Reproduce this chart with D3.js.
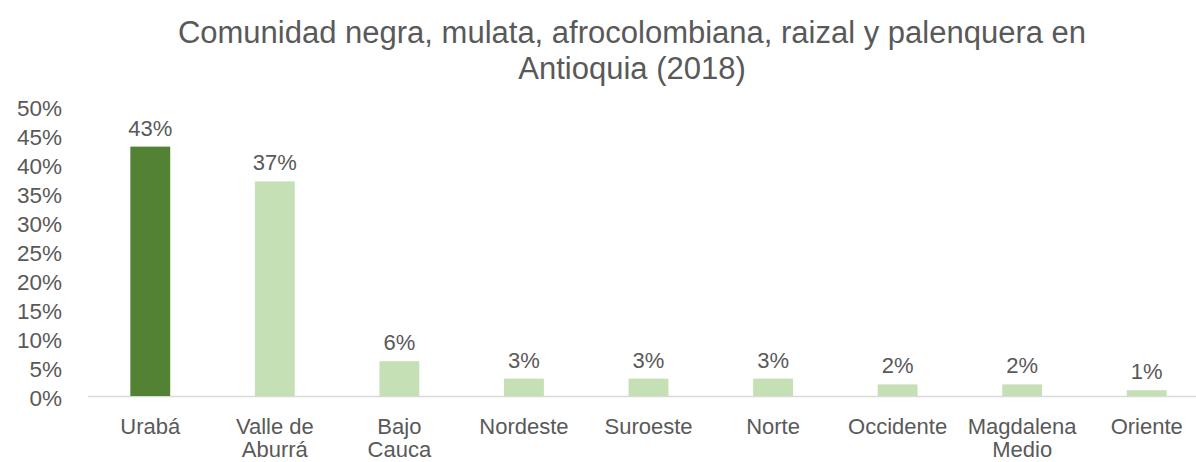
<!DOCTYPE html>
<html><head><meta charset="utf-8">
<script src="https://cdn.jsdelivr.net/npm/d3@7"></script>
<style>body{margin:0;background:#fff}svg{display:block}text{font-family:"Liberation Sans",Arial,sans-serif;fill:#595959}</style>
</head><body><svg id="c" width="1196" height="462"></svg>
<script>
const categories = [["Urabá"],["Valle de","Aburrá"],["Bajo","Cauca"],["Nordeste"],["Suroeste"],["Norte"],["Occidente"],["Magdalena","Medio"],["Oriente"]];
const values = [0.43,0.37,0.06,0.03,0.03,0.03,0.02,0.02,0.01];
const labels = ["43%","37%","6%","3%","3%","3%","2%","2%","1%"];
const yTicks = [0,0.05,0.10,0.15,0.20,0.25,0.30,0.35,0.40,0.45,0.50];
const titleLines = ["Comunidad negra, mulata, afrocolombiana, raizal y palenquera en","Antioquia (2018)"];

const svg = d3.select("#c");
const keys = categories.map((c,i)=>i);
const x = d3.scaleBand().domain(keys).range([88,1209]).paddingInner(0.68).paddingOuter(0.34);
const y = d3.scaleLinear().domain([0,0.5]).range([396,106]);

svg.append("g").selectAll("text").data(titleLines).join("text")
  .attr("x",632).attr("y",(d,i)=>43+i*36).attr("text-anchor","middle")
  .style("font-size","31px").text(d=>d);

const yAxis = d3.axisLeft(y).tickValues(yTicks).tickFormat(d3.format(".0%")).tickSize(0).tickPadding(0);
const ga = svg.append("g").attr("transform","translate(62,2)").call(yAxis);
ga.select(".domain").remove();
ga.selectAll("text").style("font-size","22.5px").attr("fill","#595959");

svg.append("line").attr("x1",88).attr("x2",1196).attr("y1",y(0)+0.5).attr("y2",y(0)+0.5)
  .attr("stroke","#d9d9d9").attr("stroke-width",1.5);

svg.append("g").selectAll("rect").data(values).join("rect")
  .attr("x",(d,i)=>x(i)).attr("width",x.bandwidth())
  .attr("y",d=>y(d)).attr("height",d=>y(0)-y(d))
  .attr("fill",(d,i)=>i===0?"#548235":"#c5e0b4");

svg.append("g").selectAll("text").data(values).join("text")
  .attr("x",(d,i)=>x(i)+x.bandwidth()/2).attr("y",d=>y(d)-11)
  .attr("text-anchor","middle").style("font-size","22px").text((d,i)=>labels[i]);

const xl = svg.append("g").selectAll("text").data(categories).join("text")
  .attr("x",(d,i)=>x(i)+x.bandwidth()/2).attr("y",434)
  .attr("text-anchor","middle").style("font-size","22px");
xl.selectAll("tspan").data(d=>d).join("tspan")
  .attr("x",function(){return this.parentNode.getAttribute("x");})
  .attr("dy",(d,i)=>i===0?0:23).text(d=>d);
</script></body></html>
